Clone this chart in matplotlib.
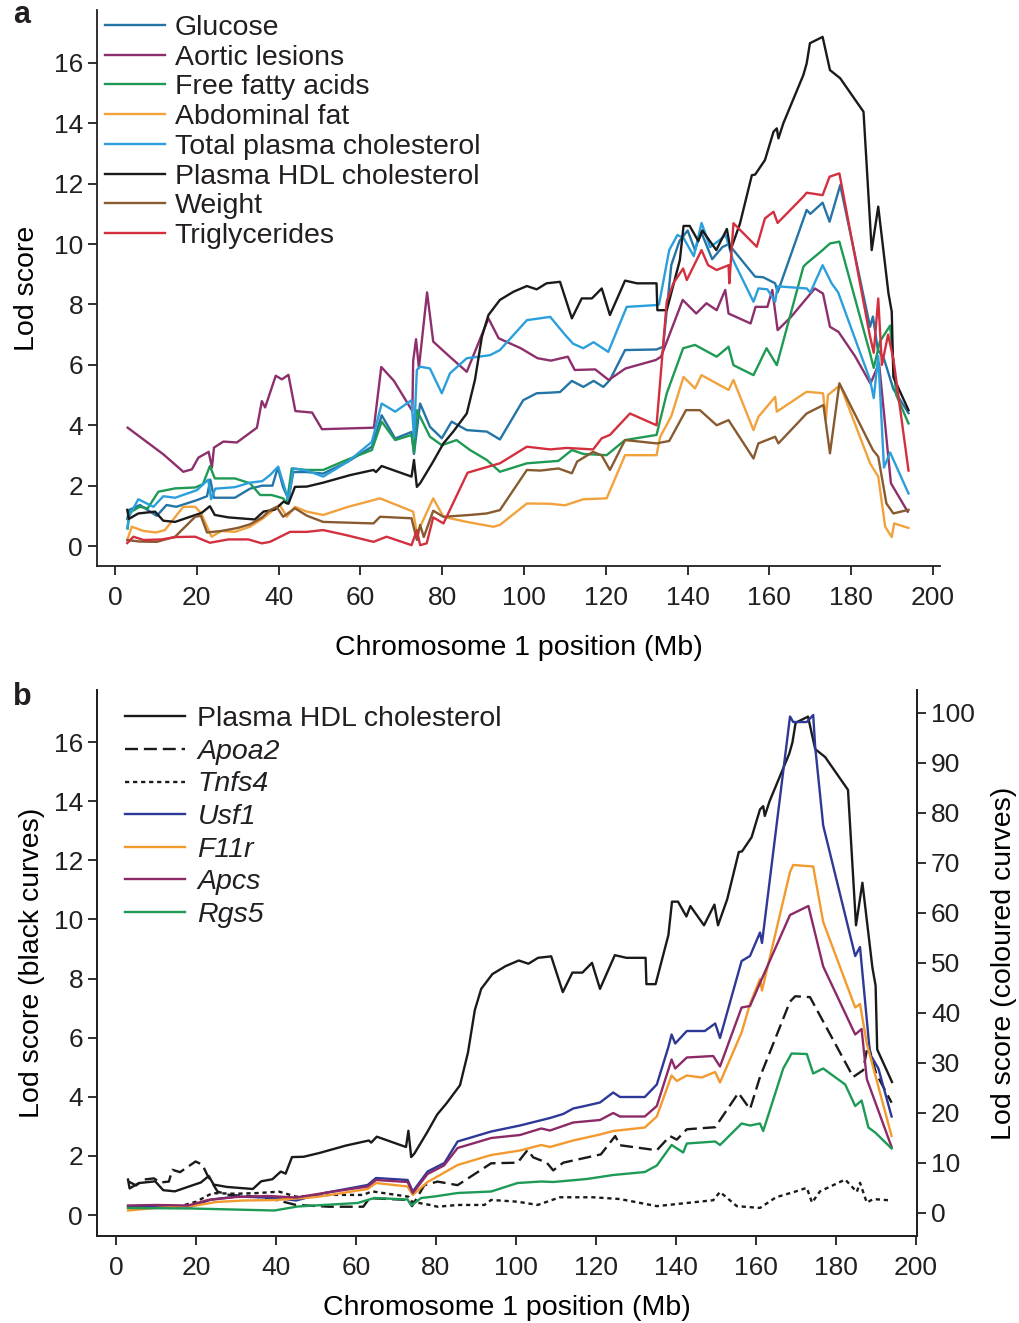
import matplotlib
matplotlib.use("Agg")
import matplotlib.pyplot as plt
import numpy as np

# %% Data (panel a: Lod score per trait along chromosome 1, x in Mb)
hdl = np.array([
    (3.0, 1.2), (3.4, 0.9), (5.7, 1.08), (9.8, 1.14), (11.8, 0.84), (14.7, 0.8), (18.8, 0.99),
    (21.2, 1.1), (23.2, 1.32), (24.4, 1.03), (27.7, 0.95), (34.2, 0.88), (36.3, 1.14), (39.1, 1.21),
    (41.2, 1.47), (42.4, 1.4), (44.0, 1.96), (46.9, 1.97), (50.9, 2.1), (57.5, 2.35), (63.2, 2.52),
    (63.8, 2.45), (65.2, 2.65), (72.5, 2.3), (73.1, 2.85), (73.8, 1.96), (74.6, 2.08), (77.8, 2.8),
    (80.3, 3.4), (82.7, 3.79), (86.0, 4.39), (88.0, 5.5), (89.7, 6.93), (91.3, 7.65), (94.1, 8.15),
    (97.4, 8.42), (100.7, 8.61), (103.1, 8.5), (105.5, 8.7), (108.8, 8.75), (111.7, 7.54), (114.1, 8.2),
    (116.6, 8.2), (119.0, 8.53), (121.0, 7.65), (124.7, 8.79), (127.6, 8.7), (132.4, 8.7), (132.6, 7.81),
    (134.9, 7.81), (138.1, 9.47), (139.0, 10.6), (140.5, 10.6), (142.6, 10.1), (143.6, 10.45),
    (147.0, 9.8), (149.6, 10.5), (150.5, 9.8), (152.8, 10.68), (155.7, 12.28), (156.5, 12.3),
    (158.9, 12.78), (161.0, 13.72), (161.8, 13.83), (162.2, 13.5), (163.4, 14.0), (168.3, 15.6),
    (169.1, 15.98), (169.9, 16.65), (173.0, 16.86), (174.8, 15.76), (177.3, 15.49), (183.0, 14.38),
    (185.0, 9.8), (186.6, 11.24), (189.1, 8.37), (189.9, 7.76), (190.3, 5.6), (194.0, 4.5)])

aortic = np.array([
    (3.1, 3.92), (11.8, 3.04), (16.7, 2.46), (18.8, 2.54), (20.4, 2.93), (22.9, 3.12), (23.7, 2.6),
    (24.2, 3.26), (26.5, 3.46), (29.8, 3.43), (34.7, 3.92), (35.9, 4.8), (36.7, 4.59), (39.3, 5.64),
    (40.8, 5.52), (42.4, 5.67), (44.1, 4.47), (48.2, 4.42), (50.6, 3.87), (63.3, 3.92), (65.1, 5.93),
    (68.2, 5.47), (72.7, 4.47), (72.9, 6.13), (73.6, 6.85), (74.3, 5.9), (76.3, 8.4), (77.8, 6.77),
    (81.6, 6.3), (86.0, 5.77), (91.3, 7.54), (93.8, 6.88), (99.2, 6.55), (103.3, 6.22), (106.6, 6.14),
    (110.7, 6.27), (112.4, 5.83), (117.4, 5.85), (120.7, 5.5), (124.8, 5.88), (132.2, 6.16),
    (133.5, 6.27), (138.8, 8.15), (142.1, 7.7), (144.6, 8.04), (147.1, 7.81), (149.2, 8.48),
    (150.0, 7.7), (155.4, 7.37), (156.6, 7.92), (159.5, 7.92), (160.7, 8.48), (162.0, 7.15),
    (165.3, 7.59), (171.1, 8.53), (173.1, 8.36), (174.8, 7.26), (176.9, 7.09), (181.0, 6.27),
    (184.7, 5.38), (186.8, 6.05), (189.7, 2.08), (193.8, 1.14)])

triglycerides = np.array([
    (3.0, 0.1), (4.5, 0.31), (7.0, 0.2), (11.4, 0.22), (15.0, 0.3), (19.6, 0.31), (23.2, 0.11),
    (27.7, 0.22), (32.6, 0.22), (35.9, 0.09), (37.9, 0.14), (42.8, 0.47), (46.9, 0.47), (50.9, 0.53),
    (56.6, 0.36), (63.2, 0.14), (66.4, 0.31), (72.5, 0.03), (73.8, 0.53), (74.6, 0.03), (76.2, 0.09),
    (77.8, 0.95), (80.3, 0.75), (86.2, 2.43), (94.1, 2.74), (100.7, 3.29), (106.4, 3.2), (110.4, 3.25),
    (116.9, 3.2), (119.0, 3.57), (121.0, 3.68), (125.9, 4.39), (132.4, 4.0), (134.9, 8.1), (136.5, 8.7),
    (138.9, 9.19), (139.8, 8.81), (143.4, 9.8), (145.0, 9.3), (147.1, 9.14), (150.0, 9.3), (150.2, 8.7),
    (151.2, 10.69), (156.9, 9.91), (158.9, 10.85), (161.0, 11.07), (162.0, 10.7), (168.3, 11.57),
    (169.1, 11.7), (173.0, 11.62), (174.7, 12.23), (177.1, 12.34), (184.5, 7.0), (185.5, 6.4),
    (186.6, 8.2), (187.5, 6.0), (189.0, 7.0), (190.3, 6.2), (194.0, 2.5)])

fatty_acids = np.array([
    (3.1, 0.58), (3.5, 1.1), (6.0, 1.3), (8.0, 1.25), (10.6, 1.8), (14.7, 1.91), (19.6, 1.94),
    (21.5, 2.05), (23.2, 2.65), (24.4, 2.24), (29.3, 2.24), (33.0, 2.08), (35.5, 1.69), (38.3, 1.69),
    (41.1, 1.58), (42.0, 1.41), (43.2, 2.57), (46.9, 2.52), (50.9, 2.52), (56.6, 2.85), (62.8, 3.18),
    (65.2, 4.12), (68.5, 3.51), (72.5, 3.68), (73.1, 3.1), (73.8, 4.5), (77.0, 3.62), (79.9, 3.34),
    (83.5, 3.51), (86.8, 3.18), (90.9, 2.85), (94.1, 2.46), (100.7, 2.74), (108.4, 2.82), (111.7, 3.18),
    (114.5, 3.05), (120.2, 3.01), (124.7, 3.51), (132.4, 3.68), (134.9, 5.06), (138.9, 6.55),
    (141.8, 6.66), (147.1, 6.27), (150.0, 6.6), (151.2, 5.99), (156.1, 5.66), (159.3, 6.55),
    (161.8, 5.99), (168.3, 9.25), (169.1, 9.36), (173.0, 9.8), (174.8, 10.02), (177.1, 10.08),
    (184.6, 6.38), (185.5, 5.9), (187.0, 6.77), (189.5, 7.3), (191.0, 5.0), (194.0, 4.06)])

glucose = np.array([
    (3.0, 0.9), (3.5, 1.2), (6.1, 1.36), (10.2, 1.0), (12.6, 1.36), (15.0, 1.3), (20.0, 1.52),
    (22.5, 1.65), (23.3, 2.2), (24.2, 1.6), (29.3, 1.6), (33.0, 1.9), (36.0, 2.0), (38.5, 2.0),
    (39.8, 2.6), (41.1, 1.95), (42.4, 1.55), (43.6, 2.45), (46.9, 2.45), (50.9, 2.4), (57.0, 2.8),
    (62.8, 3.29), (65.2, 4.33), (68.5, 3.56), (72.5, 3.78), (73.1, 3.05), (74.6, 4.72), (77.0, 3.95),
    (79.9, 3.57), (82.3, 4.12), (86.0, 3.84), (90.9, 3.79), (94.1, 3.53), (99.8, 4.83), (103.1, 5.06),
    (106.4, 5.08), (108.8, 5.1), (111.7, 5.47), (114.5, 5.27), (117.0, 5.47), (119.4, 5.27),
    (121.0, 5.5), (124.7, 6.49), (132.4, 6.51), (134.0, 6.6), (136.0, 9.3), (138.0, 10.1),
    (140.0, 10.45), (141.8, 9.8), (143.3, 10.4), (146.0, 9.5), (148.5, 9.9), (150.0, 10.0),
    (156.5, 8.92), (158.5, 8.9), (161.4, 8.7), (162.0, 8.4), (169.1, 11.13), (170.0, 11.0),
    (173.0, 11.37), (174.7, 10.74), (177.3, 11.95), (184.6, 7.26), (185.3, 7.6), (186.5, 6.5),
    (188.0, 6.2), (190.3, 5.2), (194.0, 4.4)])

total_chol = np.array([
    (3.0, 0.6), (3.5, 1.0), (5.7, 1.55), (9.4, 1.3), (11.8, 1.65), (14.7, 1.6), (20.0, 1.85),
    (22.8, 2.2), (23.5, 1.55), (24.5, 1.9), (29.3, 1.95), (33.0, 2.1), (36.0, 2.15), (37.9, 2.35),
    (39.9, 2.63), (41.1, 2.1), (42.4, 1.52), (43.6, 2.57), (46.9, 2.5), (50.9, 2.3), (57.0, 2.8),
    (62.8, 3.45), (65.2, 4.72), (68.5, 4.45), (72.5, 4.83), (73.1, 3.6), (73.8, 5.83), (74.6, 5.94),
    (77.0, 5.88), (79.9, 5.06), (81.9, 5.72), (86.0, 6.22), (91.7, 6.32), (94.1, 6.49), (100.7, 7.48),
    (106.4, 7.59), (110.0, 7.0), (112.0, 6.7), (114.5, 6.55), (117.0, 6.75), (120.6, 6.43),
    (125.1, 7.92), (132.4, 7.98), (133.0, 8.0), (135.5, 9.8), (137.5, 10.3), (139.0, 10.2),
    (141.5, 9.6), (143.4, 10.7), (145.5, 9.9), (147.5, 10.1), (149.3, 10.3), (151.0, 9.5),
    (156.1, 8.09), (157.3, 8.53), (159.5, 8.5), (161.4, 8.09), (162.0, 8.6), (169.1, 8.53),
    (170.0, 8.4), (173.0, 9.3), (175.2, 8.7), (176.8, 8.4), (184.6, 5.5), (185.5, 4.9), (186.6, 6.3),
    (188.0, 2.6), (189.5, 3.1), (194.0, 1.74)])

abdominal_fat = np.array([
    (3.0, 0.2), (4.1, 0.64), (7.0, 0.5), (10.0, 0.45), (12.2, 0.53), (15.1, 1.03), (16.7, 1.3),
    (19.6, 1.3), (21.0, 1.1), (23.6, 0.31), (26.0, 0.5), (29.3, 0.47), (33.0, 0.64), (36.0, 0.9),
    (39.9, 1.32), (40.3, 1.36), (42.0, 0.97), (44.0, 1.3), (46.9, 1.14), (50.9, 1.03), (57.0, 1.3),
    (64.8, 1.58), (72.9, 1.14), (73.8, 0.42), (74.6, 0.64), (77.8, 1.58), (80.3, 0.97), (86.0, 0.8),
    (92.5, 0.64), (94.1, 0.7), (100.7, 1.41), (106.4, 1.4), (110.0, 1.35), (114.5, 1.55),
    (120.2, 1.58), (124.7, 3.01), (132.4, 3.01), (133.3, 3.62), (136.0, 4.3), (139.0, 5.6),
    (141.8, 5.22), (143.4, 5.66), (150.0, 5.17), (151.2, 5.5), (156.1, 3.84), (157.3, 4.28),
    (161.4, 4.94), (161.8, 4.45), (169.1, 5.11), (173.1, 5.06), (173.8, 4.2), (174.3, 5.0),
    (177.3, 5.33), (184.6, 2.74), (186.6, 2.3), (188.3, 0.64), (189.9, 0.3), (190.5, 0.75),
    (194.0, 0.6)])

weight = np.array([
    (3.0, 0.2), (6.0, 0.15), (10.2, 0.14), (14.7, 0.31), (19.6, 0.97), (21.0, 1.0), (22.5, 0.45),
    (26.0, 0.5), (30.0, 0.6), (33.0, 0.72), (36.0, 0.95), (37.9, 1.19), (39.5, 1.3), (41.1, 0.97),
    (44.0, 1.25), (47.0, 1.0), (50.9, 0.8), (63.2, 0.75), (64.8, 0.97), (72.5, 0.92), (73.8, 0.2),
    (74.6, 0.7), (75.5, 0.3), (77.8, 1.17), (80.3, 0.97), (86.8, 1.03), (90.9, 1.08), (94.1, 1.19),
    (100.7, 2.52), (104.0, 2.5), (108.4, 2.57), (111.7, 2.41), (113.0, 2.8), (116.9, 3.12),
    (119.0, 3.0), (121.0, 2.52), (124.7, 3.51), (132.4, 3.4), (135.5, 3.48), (139.6, 4.5),
    (143.0, 4.5), (147.1, 4.0), (150.0, 4.17), (156.1, 2.9), (157.3, 3.4), (161.4, 3.62),
    (162.2, 3.4), (169.1, 4.39), (173.2, 4.67), (174.8, 3.07), (177.1, 5.39), (185.3, 3.18),
    (186.6, 2.96), (188.6, 1.41), (190.3, 1.08), (194.0, 1.2)])

# %% Data (panel b: gene expression Lod scores)
# black curves, left axis
apoa2 = np.array([
    (3.2, 1.13), (5.0, 1.0), (7.0, 1.2), (9.5, 1.24), (11.0, 1.1), (13.2, 1.13), (14.1, 1.53),
    (16.0, 1.45), (17.4, 1.58), (19.9, 1.81), (21.6, 1.7), (22.8, 1.36), (25.4, 0.79), (28.3, 0.68),
    (35.0, 0.62), (40.0, 0.51), (45.0, 0.34), (53.4, 0.28), (61.8, 0.28), (63.4, 0.57), (73.1, 0.51),
    (74.0, 0.3), (77.1, 1.01), (80.4, 1.13), (85.4, 1.01), (93.8, 1.75), (100.4, 1.77), (102.9, 2.2),
    (104.3, 1.95), (107.7, 1.77), (109.3, 1.51), (111.8, 1.77), (121.2, 2.05), (124.8, 2.67),
    (126.0, 2.36), (135.2, 2.19), (138.5, 2.67), (140.2, 2.55), (142.7, 2.9), (149.8, 2.97),
    (155.6, 4.13), (158.5, 3.58), (161.0, 4.67), (168.5, 7.22), (169.8, 7.4), (173.5, 7.37),
    (184.3, 4.67), (186.8, 4.9), (188.0, 5.8), (190.0, 4.8), (193.9, 3.8)])

tnfs4 = np.array([
    (3.2, 0.28), (10.0, 0.3), (15.7, 0.28), (20.0, 0.45), (24.1, 0.74), (30.0, 0.72), (35.0, 0.74),
    (40.8, 0.79), (45.0, 0.62), (53.4, 0.68), (61.8, 0.68), (64.0, 0.8), (73.1, 0.62), (74.0, 0.45),
    (78.5, 0.34), (80.4, 0.28), (85.4, 0.34), (92.1, 0.34), (93.8, 0.51), (100.4, 0.45),
    (105.4, 0.34), (111.0, 0.6), (119.3, 0.6), (126.0, 0.54), (135.2, 0.3), (149.3, 0.5),
    (151.0, 0.78), (155.2, 0.3), (161.0, 0.24), (165.0, 0.6), (170.0, 0.8), (172.7, 0.92),
    (174.0, 0.42), (176.0, 0.8), (182.3, 1.2), (185.2, 0.78), (186.0, 1.09), (187.7, 0.42),
    (189.3, 0.54), (193.1, 0.5)])

# coloured curves, right axis
usf1 = np.array([
    (3.0, 1.3), (10.0, 1.4), (18.8, 1.3), (23.8, 2.7), (30.4, 3.3), (40.4, 3.0), (45.0, 2.5),
    (52.1, 4.0), (62.9, 5.6), (65.0, 7.0), (72.9, 6.6), (74.2, 4.3), (77.9, 8.3), (82.1, 10.0),
    (85.4, 14.3), (93.8, 16.3), (101.0, 17.5), (106.0, 18.5), (108.5, 19.0), (111.8, 19.8),
    (114.3, 20.9), (117.2, 21.4), (121.0, 22.1), (124.3, 24.1), (126.0, 23.2), (132.2, 23.2),
    (135.2, 25.7), (138.1, 33.2), (138.9, 35.7), (139.8, 33.9), (142.7, 36.4), (147.2, 36.4),
    (149.8, 37.9), (151.0, 35.0), (156.4, 50.4), (158.5, 51.4), (161.0, 56.1), (161.5, 54.0),
    (168.5, 99.3), (169.3, 98.2), (172.7, 98.2), (174.3, 99.6), (174.8, 93.2), (176.8, 77.5),
    (184.8, 51.4), (186.0, 53.2), (188.5, 31.8), (190.6, 28.9), (193.9, 19.3)])

f11r = np.array([
    (3.0, 0.5), (10.0, 1.0), (20.0, 1.5), (25.0, 2.2), (32.0, 2.5), (40.0, 2.6), (50.0, 3.2),
    (55.0, 3.8), (62.9, 4.8), (65.0, 6.0), (72.9, 5.3), (74.2, 3.6), (77.9, 6.2), (85.4, 9.6),
    (93.8, 11.6), (101.0, 12.5), (106.3, 13.6), (108.5, 13.2), (114.3, 14.5), (121.0, 15.7),
    (124.3, 16.4), (132.2, 17.1), (135.2, 19.3), (138.9, 27.5), (140.2, 26.4), (142.7, 27.5),
    (146.4, 27.1), (149.8, 28.2), (151.0, 26.1), (156.4, 36.1), (158.5, 41.8), (161.0, 46.8),
    (161.5, 44.5), (168.5, 68.2), (169.3, 69.6), (174.3, 69.3), (176.8, 58.2), (184.8, 41.1),
    (186.0, 41.8), (187.7, 33.9), (193.9, 15.4)])

apcs = np.array([
    (3.0, 1.5), (10.0, 1.6), (18.0, 1.5), (23.0, 2.6), (30.0, 3.2), (38.0, 3.4), (45.0, 3.1),
    (52.0, 4.0), (62.9, 5.3), (65.0, 6.6), (72.9, 6.2), (74.2, 4.0), (77.9, 7.8), (82.0, 9.5),
    (85.4, 13.0), (93.8, 15.0), (101.0, 15.6), (106.3, 16.9), (108.5, 16.5), (114.3, 18.1),
    (121.0, 18.6), (124.3, 20.0), (126.0, 19.3), (132.2, 19.3), (135.2, 21.4), (138.9, 30.7),
    (139.8, 28.9), (142.7, 31.1), (149.3, 31.4), (151.0, 29.3), (156.4, 41.1), (158.5, 41.4),
    (161.0, 46.0), (168.5, 59.6), (173.1, 61.4), (176.8, 49.3), (184.8, 35.7), (186.4, 36.8),
    (187.7, 26.8), (193.9, 13.2)])

rgs5 = np.array([
    (3.0, 1.0), (18.8, 0.9), (39.6, 0.5), (45.4, 1.3), (60.4, 2.0), (64.6, 3.0), (72.9, 2.7),
    (73.8, 1.5), (76.3, 3.0), (79.6, 3.3), (85.4, 4.0), (93.8, 4.3), (100.4, 6.0), (106.3, 6.3),
    (109.3, 6.2), (117.7, 6.8), (124.3, 7.6), (132.2, 8.2), (135.2, 9.5), (138.9, 13.6),
    (141.8, 12.1), (142.7, 13.9), (149.8, 14.3), (151.0, 13.6), (156.4, 17.9), (158.5, 17.5),
    (161.0, 17.9), (161.8, 16.4), (166.8, 28.9), (168.9, 31.9), (172.7, 31.8), (174.3, 27.9),
    (176.8, 28.9), (182.3, 25.7), (184.8, 21.4), (186.4, 22.5), (188.1, 17.1), (189.8, 16.1),
    (193.9, 12.9)])

# %% Style
plt.rcParams['font.family'] = ['Liberation Sans', 'DejaVu Sans']
plt.rcParams['font.size'] = 20.5
plt.rcParams['xtick.labelsize'] = 19
plt.rcParams['ytick.labelsize'] = 19
plt.rcParams['axes.linewidth'] = 1.3
plt.rcParams['xtick.major.width'] = 1.3
plt.rcParams['ytick.major.width'] = 1.3
plt.rcParams['xtick.major.size'] = 6.5
plt.rcParams['ytick.major.size'] = 6.5
plt.rcParams['xtick.major.pad'] = 8
plt.rcParams['ytick.major.pad'] = 3.5
plt.rcParams['text.color'] = '#231f20'
plt.rcParams['xtick.color'] = '#231f20'
plt.rcParams['ytick.color'] = '#231f20'
plt.rcParams['axes.edgecolor'] = '#231f20'

LW = 1.7
W, H = 1020, 1323
fig = plt.figure(figsize=(W / 100, H / 100), dpi=100)

# %% Panel a
ax_a = fig.add_axes([97 / W, 1 - 566 / H, (940 - 97) / W, (566 - 10) / H])
series_a = [
    (glucose, 'Glucose', '#2474a6'),
    (aortic, 'Aortic lesions', '#8c2f6c'),
    (fatty_acids, 'Free fatty acids', '#1f9a55'),
    (abdominal_fat, 'Abdominal fat', '#f2a23c'),
    (total_chol, 'Total plasma cholesterol', '#2b9fdc'),
    (hdl, 'Plasma HDL cholesterol', '#1a1a1a'),
    (weight, 'Weight', '#875a30'),
    (triglycerides, 'Triglycerides', '#d3303f'),
]
for data, label, color in series_a:
    ax_a.plot(data[:, 0], data[:, 1], color=color, lw=LW, label=label)

ax_a.set_xlim(-4.4, 201.7)
ax_a.set_ylim(-0.66, 17.75)
ax_a.set_xticks(np.arange(0, 201, 20))
ax_a.set_yticks(np.arange(0, 17, 2))
ax_a.spines['top'].set_visible(False)
ax_a.spines['right'].set_visible(False)
ax_a.set_xlabel('Chromosome 1 position (Mb)', labelpad=18)
ax_a.set_ylabel('Lod score', labelpad=10)
ax_a.legend(loc='upper left', bbox_to_anchor=(0.0095, 0.991), frameon=False,
            handlelength=2.1, handletextpad=0.35, labelspacing=0.13,
            borderpad=0.0, borderaxespad=0.0)

# %% Panel b
ax_b = fig.add_axes([97 / W, 1 - 1236 / H, (917 - 97) / W, (1236 - 690) / H])
ax_r = ax_b.twinx()

h_hdl, = ax_b.plot(hdl[:, 0], hdl[:, 1], color='#1a1a1a', lw=LW, label='Plasma HDL cholesterol')
h_apoa2, = ax_b.plot(apoa2[:, 0], apoa2[:, 1], color='#1a1a1a', lw=LW, dashes=(5.5, 2.5), label='Apoa2')
h_tnfs4, = ax_b.plot(tnfs4[:, 0], tnfs4[:, 1], color='#1a1a1a', lw=LW, dashes=(1.8, 1.6), label='Tnfs4')

series_b = [
    (usf1, 'Usf1', '#2e3896'),
    (f11r, 'F11r', '#f39a2e'),
    (apcs, 'Apcs', '#8c2a68'),
    (rgs5, 'Rgs5', '#1d9a55'),
]
handles_b = [h_hdl, h_apoa2, h_tnfs4]
for data, label, color in series_b:
    h, = ax_r.plot(data[:, 0], data[:, 1], color=color, lw=LW, label=label)
    handles_b.append(h)

ax_b.set_xlim(-4.75, 200.25)
ax_b.set_ylim(-0.71, 17.76)
ax_r.set_ylim(-4.6, 104.6)
ax_b.set_xticks(np.arange(0, 201, 20))
ax_b.set_yticks(np.arange(0, 17, 2))
ax_r.set_yticks(np.arange(0, 101, 10))
for a in (ax_b, ax_r):
    a.spines['top'].set_visible(False)
ax_b.set_xlabel('Chromosome 1 position (Mb)', labelpad=11)
ax_b.set_ylabel('Lod score (black curves)', labelpad=6)
ax_r.set_ylabel('Lod score (coloured curves)', labelpad=12)

leg = ax_r.legend(handles=handles_b, loc='upper left', bbox_to_anchor=(0.034, 0.97),
                  frameon=False, handlelength=2.1, handletextpad=0.45, labelspacing=0.23,
                  borderpad=0.0, borderaxespad=0.0)
for t in leg.get_texts()[1:]:
    t.set_fontstyle('italic')

# %% Panel letters
fig.text(22 / W, 1 - 15 / H, 'a', fontsize=22, fontweight='bold', ha='center', va='center')
fig.text(22 / W, 1 - 697 / H, 'b', fontsize=22, fontweight='bold', ha='center', va='center')

fig.savefig('out.png', dpi=100)
